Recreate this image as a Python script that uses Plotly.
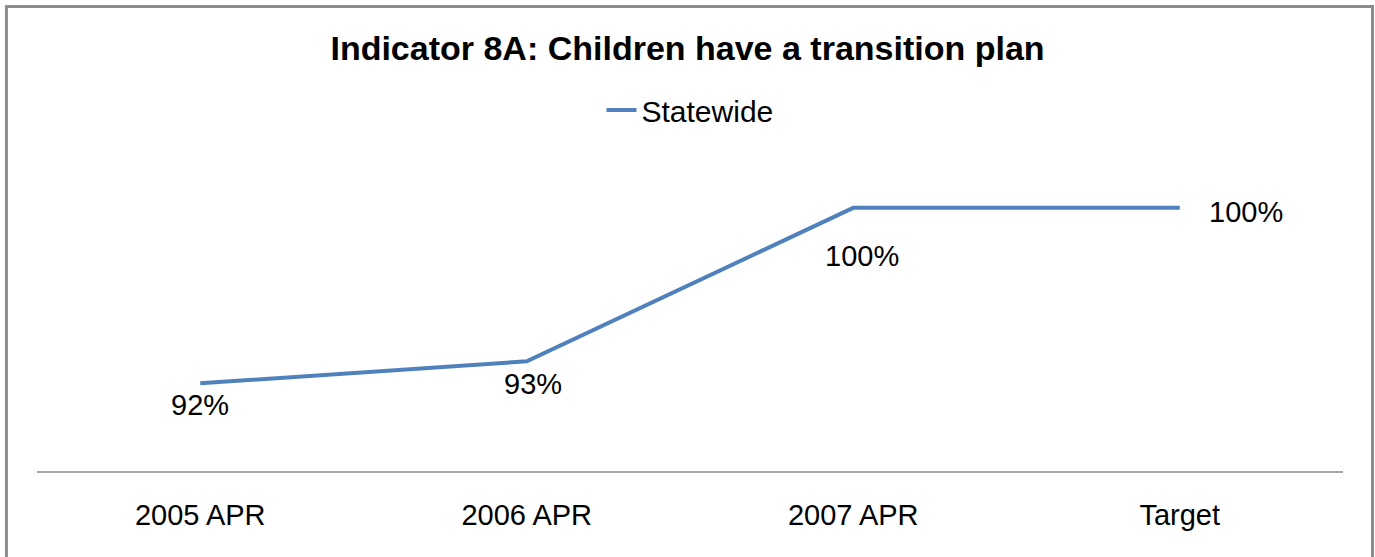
import plotly.graph_objects as go

categories = ["2005 APR", "2006 APR", "2007 APR", "Target"]
statewide = [92, 93, 100, 100]
labels = ["92%", "93%", "100%", "100%"]
label_dx = [0, 6, 9, 66]
label_dy = [-22, -23, -48, -4]

FONT = "Arial, 'Liberation Sans', sans-serif"
LINE = "#4F81BD"

fig = go.Figure()
fig.add_trace(go.Scatter(
    x=categories, y=statewide, mode="lines", name="Statewide",
    line=dict(color=LINE, width=4),
))

for c, v, t, dx, dy in zip(categories, statewide, labels, label_dx, label_dy):
    fig.add_annotation(x=c, y=v, text=t, showarrow=False, xshift=dx, yshift=dy,
                       font=dict(family=FONT, size=29, color="#000000"))

fig.add_shape(type="rect", xref="paper", yref="paper",
              x0=-0.0234, x1=1.0226, y0=-0.45, y1=1.513,
              line=dict(color="#8C8C8C", width=3), fillcolor="rgba(0,0,0,0)", layer="above")

fig.update_layout(
    width=1375, height=557,
    margin=dict(l=37, r=32, t=164, b=86),
    paper_bgcolor="white", plot_bgcolor="white",
    title=dict(text="<b>Indicator 8A: Children have a transition plan</b>",
               x=0.5, xanchor="center", y=1 - 48 / 557, yanchor="middle", yref="container",
               font=dict(family=FONT, size=34, color="#000000")),
    showlegend=True,
    legend=dict(orientation="h", x=0.5, xanchor="center", y=(471 - 110) / 307, yanchor="middle",
                font=dict(family=FONT, size=30, color="#000000"), bgcolor="rgba(0,0,0,0)"),
    xaxis=dict(type="category", range=[-0.5, 3.5], showgrid=False, zeroline=False,
               showline=True, linecolor="#A6A6A6", linewidth=2, ticks="",
               tickfont=dict(family=FONT, size=29, color="#000000"), ticklabelstandoff=17),
    yaxis=dict(range=[88, 102], showgrid=False, zeroline=False, showline=False,
               showticklabels=False, ticks=""),
)

fig.write_html("out.html", config={"displayModeBar": False},
               post_script="document.body.style.margin='0';")
